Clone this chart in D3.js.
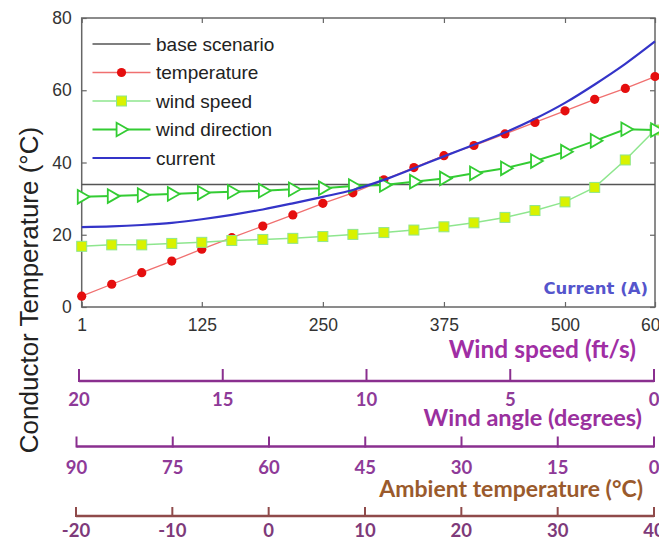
<!DOCTYPE html>
<html>
<head>
<meta charset="utf-8">
<script src="https://cdn.jsdelivr.net/npm/d3@7"></script>
<style>
  html, body { margin: 0; padding: 0; background: #fff; }
  svg { display: block; }
</style>
</head>
<body>
<svg id="chart" width="659" height="540"></svg>
<script>
// ---------- data ----------
const currents = [1, 32, 63, 94, 125, 156, 188, 219, 250, 281, 313, 344, 375, 406, 438, 469, 500, 533, 567, 600];
const baseScenario = 33.9;
const temperatureSeries = [3.0, 6.3, 9.5, 12.7, 16.0, 19.2, 22.4, 25.5, 28.7, 31.6, 35.2, 38.6, 41.9, 44.7, 47.9, 51.1, 54.3, 57.5, 60.5, 63.8];
const windSpeedSeries = [16.8, 17.2, 17.2, 17.6, 17.9, 18.4, 18.7, 19.0, 19.5, 20.1, 20.6, 21.3, 22.2, 23.3, 24.8, 26.7, 29.1, 33.1, 40.7, 49.0];
const windDirectionSeries = [30.5, 30.7, 31.0, 31.3, 31.6, 31.9, 32.2, 32.6, 32.9, 33.5, 33.8, 34.7, 35.6, 37.0, 38.4, 40.4, 43.0, 46.0, 49.2, 49.0];
const currentSeries = [22.1, 22.3, 22.7, 23.3, 24.3, 25.5, 27.0, 28.7, 30.5, 32.4, 35.2, 38.4, 41.7, 44.9, 48.3, 52.1, 56.5, 61.6, 67.3, 73.5];

const xTicks = [1, 125, 250, 375, 500, 600];
const yTicks = [0, 20, 40, 60, 80];
const windSpeedTicks = [20, 15, 10, 5, 0];
const windAngleTicks = [90, 75, 60, 45, 30, 15, 0];
const ambientTicks = [-20, -10, 0, 10, 20, 30, 40];

const legendLabels = ["base scenario", "temperature", "wind speed", "wind direction", "current"];

// ---------- layout ----------
const svg = d3.select("#chart");
const L = 81.7, R = 655, T = 18, B = 307;

const x = d3.scaleLinear().domain([1, 500, 600]).range([L, 565, R]);
const y = d3.scaleLinear().domain([0, 80]).range([B, T]);

const axisColor = "#666";
const labelColor = "#333";
const tickFont = "'Liberation Sans', Arial, sans-serif";

// frame
svg.append("rect").attr("x", L).attr("y", T).attr("width", R - L).attr("height", B - T)
  .attr("fill", "none").attr("stroke", axisColor).attr("stroke-width", 1.5);

// axes (inward ticks)
function styleAxis(g) {
  g.select(".domain").remove();
  g.selectAll(".tick line").attr("stroke", axisColor).attr("stroke-width", 1.2);
  g.selectAll(".tick text").attr("fill", labelColor).attr("font-family", tickFont).attr("font-size", 17.5);
}
svg.append("g").attr("transform", `translate(0,${B})`)
  .call(d3.axisBottom(x).tickValues(xTicks).tickSize(-5).tickPadding(12).tickFormat(d3.format("d")))
  .call(styleAxis);
svg.append("g").attr("transform", `translate(0,${T})`)
  .call(d3.axisTop(x).tickValues(xTicks).tickSize(-5).tickFormat(""))
  .call(styleAxis);
svg.append("g").attr("transform", `translate(${L},0)`)
  .call(d3.axisLeft(y).tickValues(yTicks).tickSize(-5).tickPadding(10))
  .call(styleAxis);
svg.append("g").attr("transform", `translate(${R},0)`)
  .call(d3.axisRight(y).tickValues(yTicks).tickSize(-5).tickFormat(""))
  .call(styleAxis);

// ---------- series ----------
const pts = (arr) => currents.map((c, i) => [c, arr[i]]);

// base scenario
svg.append("line").attr("x1", x(1)).attr("x2", x(600))
  .attr("y1", y(baseScenario)).attr("y2", y(baseScenario))
  .attr("stroke", "#555").attr("stroke-width", 1.6);

const line = d3.line().x(d => x(d[0])).y(d => y(d[1]));

// temperature
svg.append("path").datum(pts(temperatureSeries)).attr("d", line)
  .attr("fill", "none").attr("stroke", "#f07070").attr("stroke-width", 1.3);
svg.append("g").selectAll("circle").data(pts(temperatureSeries)).join("circle")
  .attr("cx", d => x(d[0])).attr("cy", d => y(d[1])).attr("r", 4.6)
  .attr("fill", "#e50e0e");

// wind speed
svg.append("path").datum(pts(windSpeedSeries)).attr("d", line)
  .attr("fill", "none").attr("stroke", "#8ee68e").attr("stroke-width", 1.5);
svg.append("g").selectAll("rect").data(pts(windSpeedSeries)).join("rect")
  .attr("x", d => x(d[0]) - 5).attr("y", d => y(d[1]) - 5).attr("width", 10).attr("height", 10)
  .attr("fill", "#d9f200").attr("stroke", "#8ee68e").attr("stroke-width", 1);

// wind direction
const tri = d3.symbol().type(d3.symbolTriangle).size(80);
svg.append("path").datum(pts(windDirectionSeries)).attr("d", line)
  .attr("fill", "none").attr("stroke", "#33cc33").attr("stroke-width", 2);
svg.append("g").selectAll("path").data(pts(windDirectionSeries)).join("path")
  .attr("d", tri).attr("transform", d => `translate(${x(d[0])},${y(d[1])}) rotate(90)`)
  .attr("fill", "#fff").attr("stroke", "#33cc33").attr("stroke-width", 1.8);

// current
svg.append("path").datum(pts(currentSeries)).attr("d", line.curve(d3.curveMonotoneX))
  .attr("fill", "none").attr("stroke", "#3434c8").attr("stroke-width", 2.2);

// "Current (A)" label
svg.append("text").attr("x", 648).attr("y", 294).attr("text-anchor", "end")
  .attr("font-family", "'DejaVu Sans', Verdana, sans-serif").attr("font-weight", "bold")
  .attr("font-size", 16.5).attr("fill", "#5555cc").text("Current (A)");

// ---------- legend ----------
const legY = [44, 72.5, 101, 129.5, 158];
const lg = svg.append("g");
const lx1 = 92.5, lx2 = 150.5, lmid = 121.5;
const legStyles = [
  { stroke: "#555", w: 1.6 },
  { stroke: "#f07070", w: 1.3 },
  { stroke: "#8ee68e", w: 1.5 },
  { stroke: "#33cc33", w: 2 },
  { stroke: "#3434c8", w: 2.2 }
];
legendLabels.forEach((lab, i) => {
  const yy = legY[i];
  lg.append("line").attr("x1", lx1).attr("x2", lx2).attr("y1", yy).attr("y2", yy)
    .attr("stroke", legStyles[i].stroke).attr("stroke-width", legStyles[i].w);
  if (i === 1) lg.append("circle").attr("cx", lmid).attr("cy", yy).attr("r", 4.6).attr("fill", "#e50e0e");
  if (i === 2) lg.append("rect").attr("x", lmid - 5).attr("y", yy - 5).attr("width", 10).attr("height", 10)
    .attr("fill", "#d9f200").attr("stroke", "#8ee68e");
  if (i === 3) lg.append("path").attr("d", tri).attr("transform", `translate(${lmid - 1},${yy}) rotate(90)`)
    .attr("fill", "#fff").attr("stroke", "#33cc33").attr("stroke-width", 1.8);
  lg.append("text").attr("x", 156).attr("y", yy).attr("dy", "0.35em")
    .attr("font-family", tickFont).attr("font-size", 19).attr("fill", "#222").text(lab);
});

// y-axis title
svg.append("text").attr("transform", "translate(38,290) rotate(-90)")
  .attr("text-anchor", "middle").attr("font-family", tickFont).attr("font-size", 26)
  .attr("fill", "#222").text("Conductor Temperature (°C)");

// ---------- secondary axes ----------
const secFont = "Lato, 'Open Sans', sans-serif";
function secAxis(scale, ticks, lineY, tickLen, labelBase, lineColor, labelCol) {
  const g = svg.append("g");
  const [a, b] = scale.range();
  g.append("line").attr("x1", a).attr("x2", b).attr("y1", lineY).attr("y2", lineY)
    .attr("stroke", lineColor).attr("stroke-width", 2.5);
  g.selectAll("line.t").data(ticks).join("line").attr("class", "t")
    .attr("x1", d => scale(d)).attr("x2", d => scale(d))
    .attr("y1", lineY + 1).attr("y2", lineY - tickLen)
    .attr("stroke", lineColor).attr("stroke-width", 2);
  g.selectAll("text").data(ticks).join("text")
    .attr("x", d => scale(d)).attr("y", labelBase).attr("text-anchor", "middle")
    .attr("font-family", secFont).attr("font-weight", "bold").attr("font-size", 18.5)
    .attr("fill", labelCol).text(d => d);
}
const windSpeedScale = d3.scaleLinear().domain([20, 0]).range([79, 654]);
const windAngleScale = d3.scaleLinear().domain([90, 0]).range([76.5, 654]);
const ambientScale = d3.scaleLinear().domain([-20, 40]).range([76, 654]);

secAxis(windSpeedScale, windSpeedTicks, 381, 12, 406, "#8a2f8f", "#8e3a98");
secAxis(windAngleScale, windAngleTicks, 446.5, 10, 473.5, "#8a2f8f", "#8e3a98");
secAxis(ambientScale, ambientTicks, 516, 9, 537, "#8f4a4a", "#7e3a7a");

function secTitle(txt, xEnd, yBase, col, size) {
  svg.append("text").attr("x", xEnd).attr("y", yBase).attr("text-anchor", "end")
    .attr("font-family", secFont).attr("font-weight", "bold").attr("font-size", size)
    .attr("fill", col).text(txt);
}
secTitle("Wind speed (ft/s)", 636, 358, "#a02ea4", 24.5);
secTitle("Wind angle (degrees)", 642, 426, "#9a309e", 23.5);
secTitle("Ambient temperature (°C)", 643, 497, "#9a5a2c", 23);
</script>
</body>
</html>
